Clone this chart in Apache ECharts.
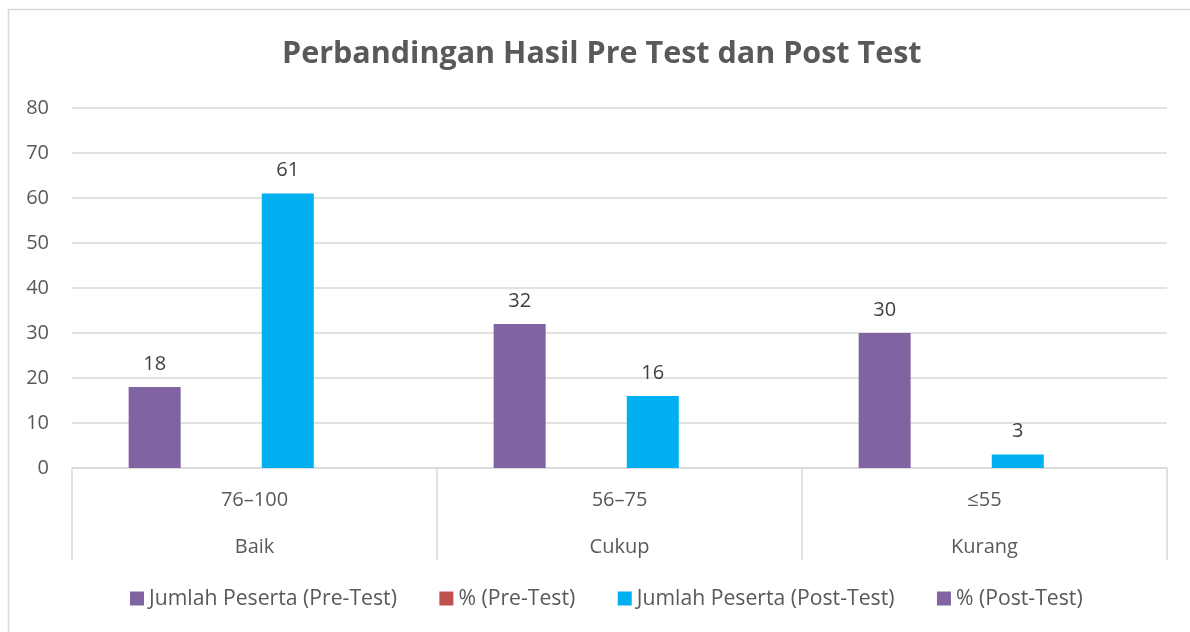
<!DOCTYPE html>
<html><head><meta charset="utf-8">
<script src="https://cdn.jsdelivr.net/npm/echarts@6/dist/echarts.min.js"></script>
<style>html,body{margin:0;padding:0;background:#fff}#c{width:1190px;height:632px}</style>
</head><body><div id="c"></div>
<script>
const ranges = ['76–100', '56–75', '≤55'];
const levels = ['Baik', 'Cukup', 'Kurang'];
const preCount = [18, 32, 30];
const prePct = [null, null, null];
const postCount = [61, 16, 3];
const postPct = [null, null, null];
const yTicks = { min: 0, max: 80, interval: 10 };
const titleText = 'Perbandingan Hasil Pre Test dan Post Test';
const seriesNames = ['Jumlah Peserta (Pre-Test)', '% (Pre-Test)', 'Jumlah Peserta (Post-Test)', '% (Post-Test)'];
const colors = ['#8064A2', '#C0504D', '#00B0F0', '#8064A2'];

const FONT = 'Open Sans';
const chart = echarts.init(document.getElementById('c'), null, { renderer: 'canvas' });
const lbl = { show: true, position: 'top', distance: 13, color: '#404040', fontSize: 20, fontFamily: FONT };
const seriesData = [preCount, prePct, postCount, postPct];
chart.setOption({
  animation: false,
  color: colors,
  graphic: [{ type: 'rect', shape: { x: 8.5, y: 9.5, width: 1200, height: 700 }, style: { fill: 'none', stroke: '#d9d9d9', lineWidth: 1.5 } }],
  title: { text: titleText, left: 277, top: 34, padding: 5, textStyle: { fontFamily: FONT, fontSize: 30.5, fontWeight: 'bold', color: '#595959' } },
  legend: { bottom: 18, left: 125, padding: 5, itemWidth: 14, itemHeight: 14, itemGap: 42.5, icon: 'rect',
    textStyle: { fontFamily: FONT, fontSize: 21.2, color: '#595959' }, data: seriesNames },
  grid: { left: 72, right: 23, top: 108, bottom: 164, containLabel: false },
  xAxis: {
    type: 'category', data: ranges,
    axisLine: { lineStyle: { color: '#d9d9d9', width: 1.5 } },
    axisTick: { show: true, length: 92, lineStyle: { color: '#d9d9d9', width: 1.5 } },
    axisLabel: { margin: 9, fontFamily: FONT, fontSize: 20, color: '#595959', lineHeight: 47,
      formatter: (v, i) => v + '\n' + levels[i] }
  },
  yAxis: {
    type: 'value', min: yTicks.min, max: yTicks.max, interval: yTicks.interval,
    axisLine: { show: false }, axisTick: { show: false },
    splitLine: { lineStyle: { color: '#d9d9d9', width: 1.5 } },
    axisLabel: { margin: 23, fontFamily: FONT, fontSize: 20, color: '#595959' }
  },
  series: seriesNames.map((n, i) => ({
    name: n, type: 'bar', data: seriesData[i], barWidth: 52, barGap: '28%', barCategoryGap: '31%',
    itemStyle: { color: colors[i] }, label: lbl
  }))
});
</script></body></html>
